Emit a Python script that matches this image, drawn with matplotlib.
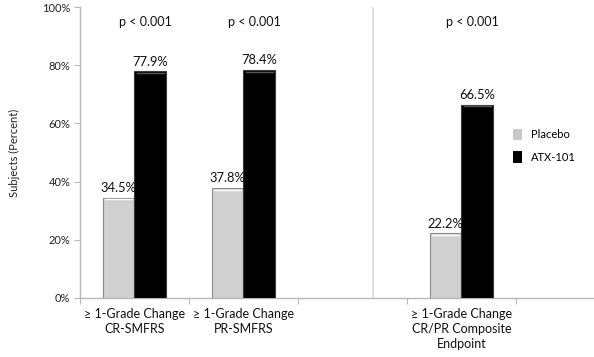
import matplotlib
matplotlib.use("Agg")
import matplotlib.pyplot as plt
from matplotlib.patches import Patch

plt.rcParams['font.family'] = ['Lato', 'DejaVu Sans']

categories = ["≥ 1-Grade Change\nCR-SMFRS",
              "≥ 1-Grade Change\nPR-SMFRS",
              "≥ 1-Grade Change\nCR/PR Composite\nEndpoint"]
placebo = [34.5, 37.8, 22.2]
atx101 = [77.9, 78.4, 66.5]
pvalues = ["p < 0.001", "p < 0.001", "p < 0.001"]
series_names = ["Placebo", "ATX-101"]
yticks = [0, 20, 40, 60, 80, 100]

group_pos = [0, 1, 3]
bw = 0.29

fig = plt.figure(figsize=(5.94, 3.57), dpi=100)
ax = fig.add_axes([0.1347, 0.1653, 0.8633, 0.8147])

axis_col = '#b8b8b8'
for i, g in enumerate(group_pos):
    ax.bar(g - bw / 2, placebo[i], width=bw, color='#d0d0d0',
           edgecolor='#8c8c8c', linewidth=0.8, zorder=3)
    ax.bar(g + bw / 2, atx101[i], width=bw, color='#000000',
           edgecolor='#3a3a3a', linewidth=0.8, zorder=3)
    ax.plot([g - bw + 0.02, g - 0.02], [placebo[i] - 0.5] * 2, color='white', lw=1.0, zorder=4)
    ax.plot([g + 0.02, g + bw - 0.02], [atx101[i] - 0.6] * 2, color='#555555', lw=1.0, zorder=4)
    ax.text(g - bw / 2, placebo[i] + 1.3, f"{placebo[i]:.1f}%", ha='center', va='bottom',
            fontsize=9.3, color='#111111', zorder=5)
    ax.text(g + bw / 2, atx101[i] + 1.3, f"{atx101[i]:.1f}%", ha='center', va='bottom',
            fontsize=9.3, color='#111111', zorder=5)
    ax.text(g + 0.1, 94.8, pvalues[i], ha='center', va='center', fontsize=9, color='#111111')

ax.axvline(2.19, color='#dcdcdc', lw=1.3, zorder=1)

ax.set_xlim(-0.5, 4.206)
ax.set_ylim(0, 100)
ax.set_yticks(yticks)
ax.set_yticklabels([f"{v}%" for v in yticks], fontsize=8, color='#222222')
ax.set_xticks([-0.5, 0.5, 1.5, 2.5, 3.5])
ax.set_xticklabels([])
ax.set_xticks(group_pos, minor=True)
ax.set_xticklabels(categories, minor=True, fontsize=9, color='#111111', linespacing=1.3)
ax.tick_params(axis='x', which='minor', length=0, pad=7)
ax.tick_params(axis='x', which='major', length=4, color=axis_col, direction='out')
ax.tick_params(axis='y', length=4, color=axis_col, direction='out', pad=3)

for s in ['top', 'right']:
    ax.spines[s].set_visible(False)
ax.spines['left'].set_color(axis_col)
ax.spines['bottom'].set_color(axis_col)
ax.spines['left'].set_linewidth(1.0)
ax.spines['bottom'].set_linewidth(1.0)

ax.set_ylabel("Subjects (Percent)", fontsize=8, color='#222222', labelpad=16)

handles = [Patch(facecolor='#c8c8c8', edgecolor='none'), Patch(facecolor='#000000', edgecolor='none')]
ax.legend(handles, series_names, loc='center left', bbox_to_anchor=(0.825, 0.524),
          frameon=False, fontsize=8, handlelength=0.8, handleheight=1.2,
          handletextpad=0.8, labelspacing=1.0)

fig.savefig("out.png", dpi=100)
